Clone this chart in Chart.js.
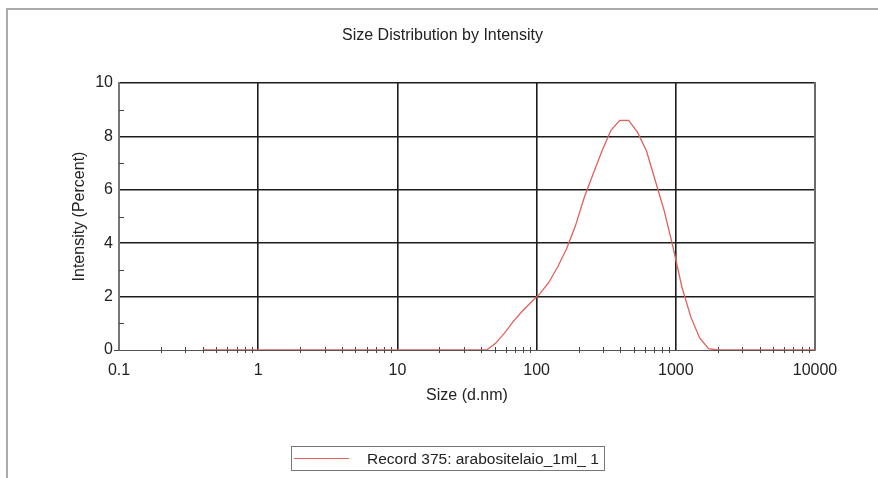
<!DOCTYPE html>
<html>
<head>
<meta charset="utf-8">
<script src="https://cdn.jsdelivr.net/npm/chart.js@4.4.0/dist/chart.umd.min.js"></script>
<style>
  body { margin: 0; background: #fff; }
  #wrap { position: relative; width: 878px; height: 478px; font-family: 'Liberation Sans', Arial, sans-serif; }
  #frame { position: absolute; left: 6px; top: 8px; right: 0; bottom: 0; border-top: 2px solid #ababab; border-left: 2px solid #ababab; }
  #legend { position: absolute; left: 291px; top: 446px; width: 312px; height: 23px; border: 1px solid #777; }
  #legend .swatch { position: absolute; left: 2px; top: 11px; width: 55px; border-top: 1px solid #e2605a; }
  #legend .label { position: absolute; left: 75px; top: 0; line-height: 23px; font-size: 15.5px; color: #222; white-space: nowrap; }
</style>
</head>
<body>
<div id="wrap">
  <div id="frame"></div>
  <canvas id="chart" width="878" height="478"></canvas>
  <div id="legend"><span class="swatch"></span><span class="label" id="legend-label"></span></div>
</div>
<script>
// size bins (d.nm) and intensity (%)
const sizes = [0.4, 0.4632, 0.5365, 0.6213, 0.7195, 0.8332, 0.9649, 1.117, 1.294, 1.499,
  1.736, 2.01, 2.328, 2.696, 3.122, 3.615, 4.187, 4.849, 5.615, 6.503,
  7.531, 8.721, 10.1, 11.7, 13.54, 15.69, 18.17, 21.04, 24.36, 28.21,
  32.67, 37.84, 43.82, 50.75, 58.77, 68.06, 78.82, 91.28, 105.7, 122.4,
  141.8, 164.2, 190.1, 220.2, 255.0, 295.3, 342.0, 396.1, 458.7, 531.2,
  615.1, 712.4, 825.0, 955.4, 1106, 1281, 1484, 1718, 1990, 2305,
  2669, 3091, 3580, 4145, 4801, 5560, 6439, 7456, 8635, 10000];
const intensity = [0, 0, 0, 0, 0, 0, 0, 0, 0, 0,
  0, 0, 0, 0, 0, 0, 0, 0, 0, 0,
  0, 0, 0, 0, 0, 0, 0, 0, 0, 0,
  0, 0, 0, 0.25, 0.63, 1.07, 1.45, 1.79, 2.11, 2.53,
  3.12, 3.79, 4.65, 5.72, 6.6, 7.46, 8.23, 8.6, 8.6, 8.15,
  7.46, 6.34, 5.22, 3.85, 2.36, 1.24, 0.45, 0.05, 0, 0,
  0, 0, 0, 0, 0, 0, 0, 0, 0, 0];
const xMajorTicks = [0.1, 1, 10, 100, 1000, 10000];
const xMinorTicks = [];
[0.1, 1, 10, 100, 1000].forEach(d => { for (let m = 2; m <= 9; m++) xMinorTicks.push(+(d * m).toPrecision(3)); });
const yMinorTicks = [1, 3, 5, 7, 9];
const seriesName = 'Record 375: arabositelaio_1ml_ 1';

document.getElementById('legend-label').textContent = seriesName;

const FONT = "'Liberation Sans', Arial, sans-serif";
const gridDark = '#1c1c1c';

const extras = {
  id: 'extras',
  beforeDatasetsDraw(chart) {
    const { ctx, chartArea: a, scales: { x, y } } = chart;
    ctx.save();
    // right border of the plot
    ctx.strokeStyle = '#6a6a6a';
    ctx.lineWidth = 2;
    ctx.beginPath();
    ctx.moveTo(a.right, a.top - 1);
    ctx.lineTo(a.right, a.bottom);
    ctx.stroke();
    // minor ticks
    ctx.strokeStyle = '#444';
    ctx.lineWidth = 1;
    ctx.beginPath();
    xMinorTicks.forEach(v => {
      const px = Math.round(x.getPixelForValue(v)) + 0.5;
      ctx.moveTo(px, a.bottom - 3);
      ctx.lineTo(px, a.bottom + 3);
    });
    yMinorTicks.forEach(v => {
      const py = Math.round(y.getPixelForValue(v)) + 0.5;
      ctx.moveTo(a.left, py);
      ctx.lineTo(a.left + 5, py);
    });
    // small outside tick at zero
    ctx.moveTo(a.left - 5, a.bottom + 0.5);
    ctx.lineTo(a.left, a.bottom + 0.5);
    ctx.stroke();
    ctx.restore();
  }
};

new Chart(document.getElementById('chart'), {
  type: 'line',
  data: {
    datasets: [{
      label: seriesName,
      data: sizes.map((s, i) => ({ x: s, y: intensity[i] })),
      borderColor: '#e2605a',
      borderWidth: 1.3,
      pointRadius: 0,
      tension: 0,
      fill: false
    }]
  },
  options: {
    responsive: false,
    animation: false,
    devicePixelRatio: 1,
    layout: { padding: { top: 0, left: 70, right: 63, bottom: 73 } },
    plugins: {
      legend: { display: false },
      tooltip: { enabled: false },
      title: {
        display: true,
        text: 'Size Distribution by Intensity',
        color: '#222',
        font: { family: FONT, size: 16, weight: 'normal' },
        padding: { top: 26, bottom: 37.8 }
      }
    },
    scales: {
      x: {
        type: 'logarithmic',
        min: 0.1,
        max: 10000,
        afterBuildTicks: s => { s.ticks = xMajorTicks.map(v => ({ value: v })); },
        afterFit: s => { s.height = 55; },
        ticks: {
          color: '#222',
          font: { family: FONT, size: 16 },
          padding: 11,
          maxRotation: 0,
          autoSkip: false,
          callback: v => String(v)
        },
        grid: {
          drawTicks: false,
          color: c => (c.tick && c.tick.value === 0.1) ? 'rgba(0,0,0,0)' : gridDark,
          lineWidth: 1.6
        },
        border: { display: true, color: '#555', width: 1 },
        title: {
          display: true,
          text: 'Size (d.nm)',
          color: '#222',
          font: { family: FONT, size: 16 },
          padding: { top: 0, bottom: 0 }
        }
      },
      y: {
        min: 0,
        max: 10,
        afterFit: s => { s.width = 49; },
        ticks: {
          stepSize: 2,
          color: '#222',
          font: { family: FONT, size: 16 },
          padding: 6
        },
        grid: {
          drawTicks: false,
          color: c => (c.tick && c.tick.value === 0) ? 'rgba(0,0,0,0)' : gridDark,
          lineWidth: 1.6
        },
        border: { display: true, color: '#777', width: 2 },
        title: {
          display: true,
          text: 'Intensity (Percent)',
          color: '#222',
          font: { family: FONT, size: 16 },
          padding: { top: 0, bottom: 0 }
        }
      }
    }
  },
  plugins: [extras]
});
</script>
</body>
</html>
